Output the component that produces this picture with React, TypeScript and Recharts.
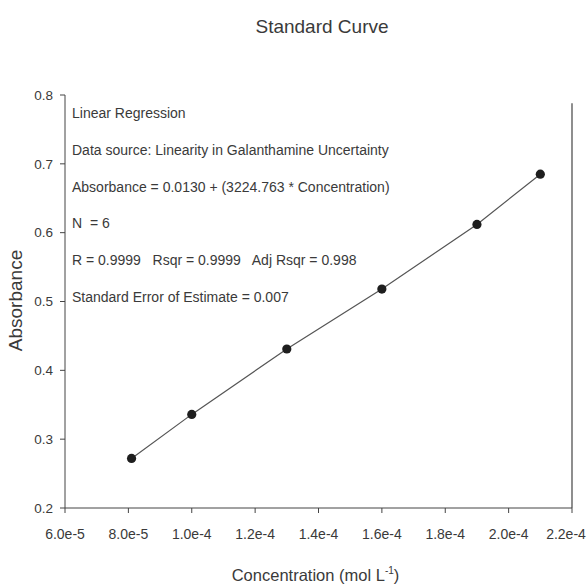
import React from 'react';
import { ScatterChart, Scatter, XAxis, YAxis, ReferenceLine, Label } from 'recharts';

const concentration = [8.1e-5, 1.0e-4, 1.3e-4, 1.6e-4, 1.9e-4, 2.1e-4];
const absorbance = [0.272, 0.336, 0.431, 0.518, 0.612, 0.685];
const xTicks = [6e-5, 8e-5, 1e-4, 1.2e-4, 1.4e-4, 1.6e-4, 1.8e-4, 2e-4, 2.2e-4];
const yTicks = [0.2, 0.3, 0.4, 0.5, 0.6, 0.7, 0.8];
const notes = [
  'Linear Regression',
  'Data source: Linearity in Galanthamine Uncertainty',
  'Absorbance = 0.0130 + (3224.763 * Concentration)',
  'N  = 6',
  'R = 0.9999   Rsqr = 0.9999   Adj Rsqr = 0.998',
  'Standard Error of Estimate = 0.007',
];

const points = concentration.map((x, i) => ({ x, y: absorbance[i] }));

const FONT = '"Liberation Sans", Arial, sans-serif';
const INK = '#3a3a3a';

const Dot = (p: any) => <circle cx={p.cx} cy={p.cy} r={4.6} fill="#1e1e1e" />;

// keeps the last label inside the page, like the reference where it touches the edge
const XTick = ({ x, y, payload }: any) => {
  const label = Number(payload.value).toExponential(1);
  const cx = Math.min(x, 586 - 20);
  return (
    <text x={cx} y={y} dy="0.71em" textAnchor="middle" fontSize={14} fontFamily={FONT} fill={INK}>
      {label}
    </text>
  );
};

const YLabel = ({ viewBox }: any) => {
  const cx = 15;
  const cy = viewBox.y + viewBox.height / 2 - 1;
  return (
    <text x={cx} y={cy} transform={`rotate(-90 ${cx} ${cy})`} textAnchor="middle" dominantBaseline="central"
      fontSize={19} fontFamily={FONT} fill={INK}>
      Absorbance
    </text>
  );
};

const XLabel = ({ viewBox }: any) => (
  <text x={viewBox.x + viewBox.width / 2 - 3} y={581} textAnchor="middle" fontSize={16.5} fontFamily={FONT} fill={INK}>
    Concentration (mol L<tspan dy={-7} fontSize={10}>-1</tspan><tspan dy={7}>)</tspan>
  </text>
);

export default function App() {
  return (
    <div style={{ position: 'absolute', left: 0, top: 0, width: 587, height: 584, background: '#fff' }}>
      <ScatterChart width={587} height={584} margin={{ top: 95, right: 15, bottom: 0, left: 0 }}>
        <XAxis
          type="number"
          dataKey="x"
          domain={[6e-5, 2.2e-4]}
          ticks={xTicks}
          tick={<XTick />}
          stroke="#444"
          tickSize={5}
          tickMargin={16}
          height={76}
          interval={0}
          allowDataOverflow
        >
          <Label content={<XLabel />} />
        </XAxis>
        <YAxis
          type="number"
          dataKey="y"
          domain={[0.2, 0.8]}
          ticks={yTicks}
          tickFormatter={(v: number) => v.toFixed(1)}
          tick={{ fontSize: 13.5, fill: INK, fontFamily: FONT }}
          stroke="#444"
          tickSize={5}
          tickMargin={7}
          width={65}
          interval={0}
          allowDataOverflow
        >
          <Label content={<YLabel />} />
        </YAxis>
        <ReferenceLine segment={[{ x: 2.2e-4, y: 0.2 }, { x: 2.2e-4, y: 0.788 }]} stroke="#444" strokeWidth={1.2} />
        <Scatter data={points} shape={Dot} line={{ stroke: '#555', strokeWidth: 1.2 }} isAnimationActive={false} />
      </ScatterChart>
      <div style={{ position: 'absolute', left: 0, top: 16, width: 644, textAlign: 'center', fontFamily: FONT, fontSize: 19, color: INK }}>
        Standard Curve
      </div>
      {notes.map((t, i) => (
        <div key={i} style={{ position: 'absolute', left: 72, top: 113 + i * 36.8 - 9, height: 18, lineHeight: '18px',
          fontFamily: FONT, fontSize: 14, color: INK, whiteSpace: 'pre' }}>
          {t}
        </div>
      ))}
    </div>
  );
}
